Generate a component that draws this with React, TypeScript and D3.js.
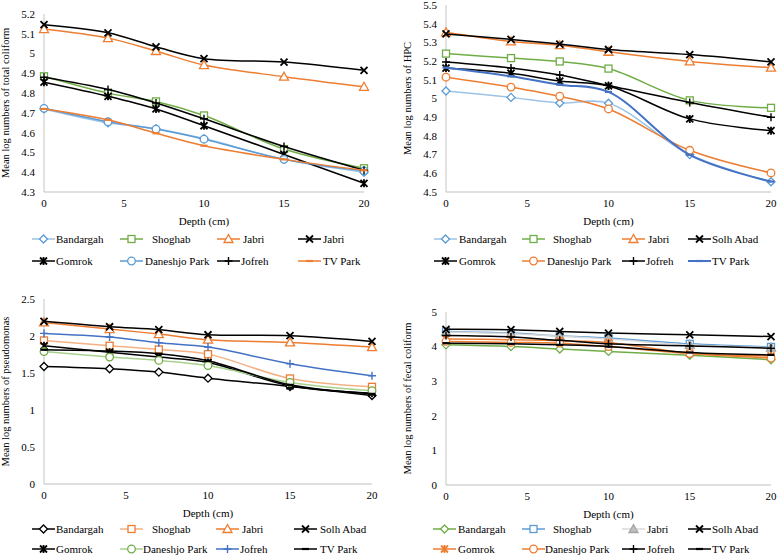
import React from "react";
import * as d3 from "d3";

const depths = [0, 4, 7, 10, 15, 20];
const xTicks = [0, 5, 10, 15, 20];

// Total coliform
const tcBandargah = [4.72, 4.65, 4.62, 4.57, 4.465, 4.4];
const tcShoghab = [4.885, 4.8, 4.758, 4.687, 4.517, 4.42];
const tcJabri = [5.124, 5.078, 5.013, 4.942, 4.883, 4.832];
const tcJabri2 = [5.146, 5.105, 5.034, 4.974, 4.957, 4.915];
const tcGomrok = [4.855, 4.784, 4.72, 4.635, 4.49, 4.344];
const tcDaneshjo = [4.723, 4.655, 4.618, 4.567, 4.465, 4.407];
const tcJofreh = [4.88, 4.818, 4.75, 4.67, 4.53, 4.41];
const tcTVPark = [4.72, 4.665, 4.597, 4.534, 4.465, 4.41];

// HPC
const hpcBandargah = [5.04, 5.006, 4.976, 4.975, 4.7, 4.555];
const hpcShoghab = [5.24, 5.216, 5.198, 5.16, 4.99, 4.95];
const hpcJabri = [5.354, 5.305, 5.285, 5.25, 5.198, 5.165];
const hpcSolhAbad = [5.345, 5.316, 5.291, 5.262, 5.235, 5.196];
const hpcGomrok = [5.163, 5.135, 5.093, 5.067, 4.891, 4.828];
const hpcDaneshjo = [5.114, 5.061, 5.012, 4.944, 4.723, 4.602];
const hpcJofreh = [5.195, 5.163, 5.126, 5.07, 4.979, 4.9];
const hpcTVPark = [5.165, 5.119, 5.074, 5.035, 4.698, 4.556];

// Pseudomonas
const psBandargah = [1.588, 1.557, 1.512, 1.43, 1.318, 1.196];
const psShoghab = [1.94, 1.868, 1.818, 1.755, 1.426, 1.313];
const psJabri = [2.184, 2.094, 2.026, 1.95, 1.913, 1.85];
const psSolhAbad = [2.198, 2.125, 2.085, 2.017, 2.004, 1.927];
const psGomrok = [1.868, 1.782, 1.715, 1.643, 1.327, 1.227];
const psDaneshjo = [1.79, 1.715, 1.67, 1.6, 1.372, 1.26];
const psJofreh = [2.035, 1.986, 1.909, 1.85, 1.625, 1.462];
const psTVPark = [1.814, 1.796, 1.76, 1.665, 1.34, 1.218];

// Fecal coliform
const fcBandargah = [4.05, 4.0, 3.93, 3.86, 3.75, 3.62];
const fcShoghab = [4.44, 4.39, 4.31, 4.25, 4.08, 3.99];
const fcJabri = [4.42, 4.37, 4.3, 4.22, 4.05, 3.97];
const fcSolhAbad = [4.5, 4.49, 4.44, 4.39, 4.34, 4.29];
const fcGomrok = [4.22, 4.2, 4.17, 4.12, 3.81, 3.73];
const fcDaneshjo = [4.15, 4.12, 4.1, 4.0, 3.8, 3.67];
const fcJofreh = [4.32, 4.28, 4.18, 4.08, 4.02, 3.95];
const fcTVPark = [4.1, 4.08, 4.05, 4.0, 3.83, 3.76];

const tcTicks = [4.3, 4.4, 4.5, 4.6, 4.7, 4.8, 4.9, 5, 5.1, 5.2];
const hpcTicks = [4.5, 4.6, 4.7, 4.8, 4.9, 5, 5.1, 5.2, 5.3, 5.4, 5.5];
const psTicks = [0, 0.5, 1, 1.5, 2, 2.5];
const fcTicks = [0, 1, 2, 3, 4, 5];

const BLUE = "#5B9BD5";
const LBLUE = "#9DC3E6";
const DBLUE = "#4472C4";
const ORANGE = "#ED7D31";
const LORANGE = "#F4B183";
const GREEN = "#70AD47";
const LGREEN = "#A9D18E";
const GREY = "#A5A5A5";
const BLACK = "#000000";

type Marker = "diamond" | "square" | "triangle" | "circle" | "x" | "star" | "plus" | "dash";
interface Series {
  name: string;
  values: number[];
  line: string;
  mark: string;
  marker: Marker;
  fill?: string;
  width?: number;
}
interface PanelCfg {
  x0: number;
  x1: number;
  yTop: number;
  yBot: number;
  domain: [number, number];
  ticks: number[];
  title: string;
  titleX: number;
  legendY: number[];
  legendCols: number[];
  textOff: number[][];
  series: Series[];
}

const FONT = "Liberation Serif, DejaVu Serif, serif";

function MarkerShape({ type, x, y, color, fill }: { type: Marker; x: number; y: number; color: string; fill?: string }) {
  const sw = 1.3;
  switch (type) {
    case "diamond":
      return <path d={`M${x},${y - 4}L${x + 4},${y}L${x},${y + 4}L${x - 4},${y}Z`} fill={fill || "#fff"} stroke={color} strokeWidth={sw} />;
    case "square":
      return <rect x={x - 3.5} y={y - 3.5} width={7} height={7} fill={fill || "#fff"} stroke={color} strokeWidth={sw} />;
    case "triangle":
      return <path d={`M${x},${y - 4.5}L${x + 4.5},${y + 3.5}L${x - 4.5},${y + 3.5}Z`} fill={fill || "#fff"} stroke={color} strokeWidth={sw} />;
    case "circle":
      return <circle cx={x} cy={y} r={3.8} fill={fill || "#fff"} stroke={color} strokeWidth={sw} />;
    case "x":
      return (
        <path d={`M${x - 3.5},${y - 3.5}L${x + 3.5},${y + 3.5}M${x - 3.5},${y + 3.5}L${x + 3.5},${y - 3.5}`} stroke={color} strokeWidth={1.8} fill="none" />
      );
    case "star":
      return (
        <path
          d={`M${x - 3.5},${y - 3.5}L${x + 3.5},${y + 3.5}M${x - 3.5},${y + 3.5}L${x + 3.5},${y - 3.5}M${x},${y - 4}L${x},${y + 4}`}
          stroke={color}
          strokeWidth={1.8}
          fill="none"
        />
      );
    case "plus":
      return <path d={`M${x - 4},${y}L${x + 4},${y}M${x},${y - 4}L${x},${y + 4}`} stroke={color} strokeWidth={1.4} fill="none" />;
    case "dash":
      return <path d={`M${x - 3.5},${y}L${x + 3.5},${y}`} stroke={color} strokeWidth={2.2} fill="none" />;
  }
  return null;
}

function fmt(v: number) {
  return String(+v.toFixed(1));
}

function Panel({ cfg }: { cfg: PanelCfg }) {
  const x = d3.scaleLinear().domain([0, 20]).range([cfg.x0, cfg.x1]);
  const y = d3.scaleLinear().domain(cfg.domain).range([cfg.yBot, cfg.yTop]);
  const line = d3
    .line<number>()
    .x((_, i) => x(depths[i]))
    .y((d) => y(d))
    .curve(d3.curveCatmullRom.alpha(0.5));
  const midY = (cfg.yTop + cfg.yBot) / 2;
  return (
    <g style={{ fontFamily: FONT, fontSize: "11px" }} fill="#000">
      <line x1={cfg.x0} x2={cfg.x0} y1={cfg.yTop} y2={cfg.yBot} stroke="#d9d9d9" strokeWidth={1.5} />
      <line x1={cfg.x0} x2={cfg.x1} y1={cfg.yBot} y2={cfg.yBot} stroke="#bfbfbf" strokeWidth={1} />
      {cfg.ticks.map((t) => (
        <text key={t} x={cfg.x0 - 9} y={y(t)} dy="0.35em" textAnchor="end">
          {fmt(t)}
        </text>
      ))}
      {xTicks.map((t) => (
        <text key={t} x={x(t)} y={cfg.yBot + 15} textAnchor="middle">
          {t}
        </text>
      ))}
      <text x={(cfg.x0 + cfg.x1) / 2} y={cfg.yBot + 33} textAnchor="middle">
        Depth (cm)
      </text>
      <text transform={`translate(${cfg.titleX},${midY}) rotate(-90)`} textAnchor="middle" style={{ fontSize: "10.5px" }}>
        {cfg.title}
      </text>
      {cfg.series.map((s, i) => (
        <g key={i}>
          <path d={line(s.values) || ""} fill="none" stroke={s.line} strokeWidth={s.width || 1.5} />
          {s.values.map((v, j) => (
            <MarkerShape key={j} type={s.marker} x={x(depths[j])} y={y(v)} color={s.mark} fill={s.fill} />
          ))}
        </g>
      ))}
      {cfg.series.map((s, i) => {
        const row = Math.floor(i / 4);
        const col = i % 4;
        const lx = cfg.legendCols[col];
        const ly = cfg.legendY[row];
        return (
          <g key={"l" + i}>
            <line x1={lx} x2={lx + 23} y1={ly} y2={ly} stroke={s.line} strokeWidth={s.width || 1.5} />
            <MarkerShape type={s.marker} x={lx + 11.5} y={ly} color={s.mark} fill={s.fill} />
            <text x={lx + cfg.textOff[row][col]} y={ly} dy="0.35em">
              {s.name}
            </text>
          </g>
        );
      })}
    </g>
  );
}

const panels: PanelCfg[] = [
  {
    x0: 44,
    x1: 364,
    yTop: 14,
    yBot: 192,
    domain: [4.3, 5.2],
    ticks: tcTicks,
    title: "Mean log numbers of total coliform",
    titleX: 9,
    legendY: [239, 261],
    legendCols: [32, 120, 217, 298],
    textOff: [
      [24, 32, 26, 25],
      [24, 25, 24, 25],
    ],
    series: [
      { name: "Bandargah", values: tcBandargah, line: LBLUE, mark: BLUE, marker: "diamond" },
      { name: "Shoghab", values: tcShoghab, line: GREEN, mark: GREEN, marker: "square" },
      { name: "Jabri", values: tcJabri, line: ORANGE, mark: ORANGE, marker: "triangle" },
      { name: "Jabri", values: tcJabri2, line: BLACK, mark: BLACK, marker: "x" },
      { name: "Gomrok", values: tcGomrok, line: BLACK, mark: BLACK, marker: "star" },
      { name: "Daneshjo Park", values: tcDaneshjo, line: BLUE, mark: BLUE, marker: "circle" },
      { name: "Jofreh", values: tcJofreh, line: BLACK, mark: BLACK, marker: "plus" },
      { name: "TV Park", values: tcTVPark, line: ORANGE, mark: ORANGE, marker: "dash" },
    ],
  },
  {
    x0: 446,
    x1: 771,
    yTop: 5,
    yBot: 192,
    domain: [4.5, 5.5],
    ticks: hpcTicks,
    title: "Mean log numbers of HPC",
    titleX: 411,
    legendY: [239, 261],
    legendCols: [434, 522, 622, 688],
    textOff: [
      [25, 31, 26, 24],
      [25, 25, 24, 24],
    ],
    series: [
      { name: "Bandargah", values: hpcBandargah, line: LBLUE, mark: BLUE, marker: "diamond" },
      { name: "Shoghab", values: hpcShoghab, line: GREEN, mark: GREEN, marker: "square" },
      { name: "Jabri", values: hpcJabri, line: ORANGE, mark: ORANGE, marker: "triangle" },
      { name: "Solh Abad", values: hpcSolhAbad, line: BLACK, mark: BLACK, marker: "x" },
      { name: "Gomrok", values: hpcGomrok, line: BLACK, mark: BLACK, marker: "star" },
      { name: "Daneshjo Park", values: hpcDaneshjo, line: ORANGE, mark: ORANGE, marker: "circle" },
      { name: "Jofreh", values: hpcJofreh, line: BLACK, mark: BLACK, marker: "plus" },
      { name: "TV Park", values: hpcTVPark, line: DBLUE, mark: DBLUE, marker: "dash", width: 2 },
    ],
  },
  {
    x0: 44,
    x1: 372,
    yTop: 299,
    yBot: 484,
    domain: [0, 2.5],
    ticks: psTicks,
    title: "Mean log numbers of pseudomonas",
    titleX: 9,
    legendY: [529, 549],
    legendCols: [32, 120, 216, 294],
    textOff: [
      [24, 32, 26, 26],
      [24, 23, 24, 26],
    ],
    series: [
      { name: "Bandargah", values: psBandargah, line: BLACK, mark: BLACK, marker: "diamond" },
      { name: "Shoghab", values: psShoghab, line: LORANGE, mark: ORANGE, marker: "square" },
      { name: "Jabri", values: psJabri, line: ORANGE, mark: ORANGE, marker: "triangle" },
      { name: "Solh Abad", values: psSolhAbad, line: BLACK, mark: BLACK, marker: "x" },
      { name: "Gomrok", values: psGomrok, line: BLACK, mark: BLACK, marker: "star" },
      { name: "Daneshjo Park", values: psDaneshjo, line: LGREEN, mark: GREEN, marker: "circle" },
      { name: "Jofreh", values: psJofreh, line: DBLUE, mark: DBLUE, marker: "plus" },
      { name: "TV Park", values: psTVPark, line: BLACK, mark: BLACK, marker: "dash" },
    ],
  },
  {
    x0: 446,
    x1: 771,
    yTop: 312,
    yBot: 485,
    domain: [0, 5],
    ticks: fcTicks,
    title: "Mean log numbers of fecal coliform",
    titleX: 411,
    legendY: [529, 549],
    legendCols: [433, 522, 622, 688],
    textOff: [
      [25, 31, 25, 24],
      [25, 23, 25, 24],
    ],
    series: [
      { name: "Bandargah", values: fcBandargah, line: GREEN, mark: GREEN, marker: "diamond" },
      { name: "Shoghab", values: fcShoghab, line: BLUE, mark: BLUE, marker: "square" },
      { name: "Jabri", values: fcJabri, line: "#D9D9D9", mark: GREY, marker: "triangle", fill: "#BFBFBF" },
      { name: "Solh Abad", values: fcSolhAbad, line: BLACK, mark: BLACK, marker: "x" },
      { name: "Gomrok", values: fcGomrok, line: ORANGE, mark: ORANGE, marker: "star" },
      { name: "Daneshjo Park", values: fcDaneshjo, line: ORANGE, mark: ORANGE, marker: "circle" },
      { name: "Jofreh", values: fcJofreh, line: BLACK, mark: BLACK, marker: "plus" },
      { name: "TV Park", values: fcTVPark, line: BLACK, mark: BLACK, marker: "dash" },
    ],
  },
];

export default function App() {
  return (
    <svg width={777} height={555} style={{ position: "absolute", left: 0, top: 0, background: "#fff" }}>
      <rect width={777} height={555} fill="#fff" />
      {panels.map((p, i) => (
        <Panel key={i} cfg={p} />
      ))}
    </svg>
  );
}
